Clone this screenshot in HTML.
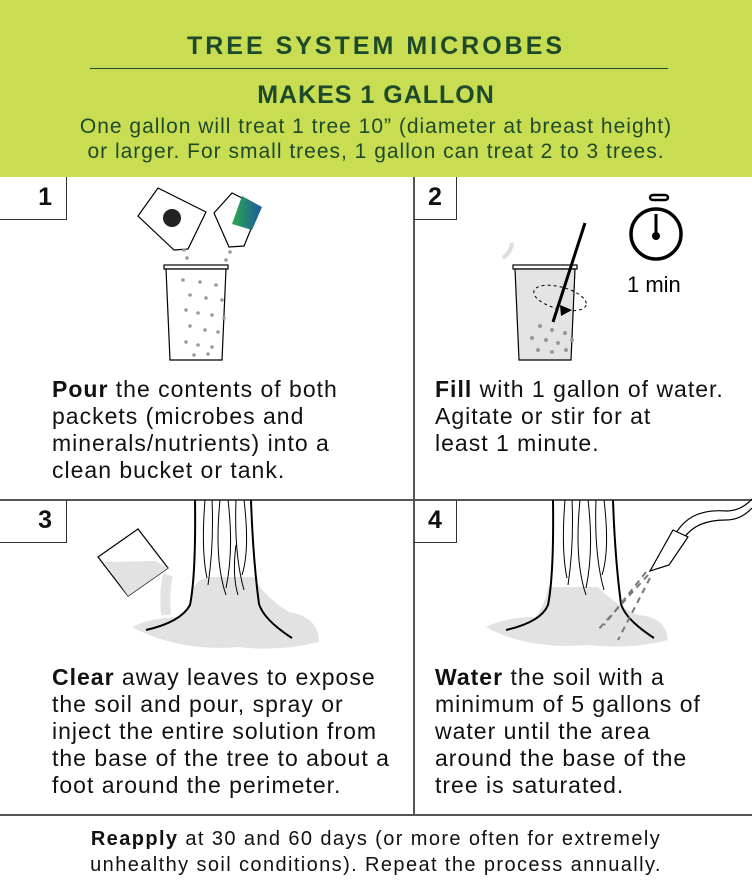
<!DOCTYPE html>
<html><head><meta charset="utf-8"><style>
*{margin:0;padding:0;box-sizing:border-box}
body{width:752px;height:886px;background:#fff;font-family:"Liberation Sans",sans-serif;position:relative;overflow:hidden;color:#111}
.hdr{position:absolute;left:0;top:0;width:752px;height:177px;background:#c9dd52;color:#1d4a2a;text-align:center}
.t1{position:absolute;top:32px;width:100%;font-size:25px;font-weight:bold;letter-spacing:3px}
.rule{position:absolute;left:90px;width:578px;top:68px;border-top:1.5px solid #1d4a2a}
.t2{position:absolute;top:81px;width:100%;font-size:25px;font-weight:bold;letter-spacing:1px}
.t3{position:absolute;top:114px;width:100%;font-size:21px;line-height:25px;letter-spacing:1px}
.v{position:absolute;left:413px;top:177px;width:1.5px;height:638px;background:#555}
.h{position:absolute;left:0;width:752px;height:1.5px;background:#555}
.num{position:absolute;width:67px;height:43px;border-right:1.5px solid #333;border-bottom:1.5px solid #333;font-weight:bold;font-size:25px;text-align:right;padding:6px 14px 0 0}
.tx{position:absolute;font-size:23px;line-height:27px;width:370px;letter-spacing:1px;white-space:nowrap}
.ft{position:absolute;top:826px;width:100%;text-align:center;font-size:20px;line-height:26px;letter-spacing:1.4px}
svg{position:absolute;left:0;top:0}
</style></head><body>
<div class="hdr">
<div class="t1">TREE SYSTEM MICROBES</div>
<div class="rule"></div>
<div class="t2">MAKES 1 GALLON</div>
<div class="t3">One gallon will treat 1 tree 10” (diameter at breast height)<br>or larger. For small trees, 1 gallon can treat 2 to 3 trees.</div>
</div>
<div class="v"></div>
<div class="h" style="top:499px"></div>
<div class="h" style="top:814px"></div>
<div class="num" style="left:0;top:177px">1</div>
<div class="num" style="left:414px;top:177px;width:43px;text-align:center;padding-right:0">2</div>
<div class="num" style="left:0;top:500px">3</div>
<div class="num" style="left:414px;top:500px;width:43px;text-align:center;padding-right:0">4</div>

<svg width="752" height="886">
<defs><linearGradient id="g" x1="0" x2="1"><stop offset="0" stop-color="#2aa84a"/><stop offset="1" stop-color="#1e5aa0"/></linearGradient></defs>
<!-- cell1 -->
<polygon points="138,216 158,188 206,212 188,249 174,250" fill="#fff" stroke="#000" stroke-width="1.2"/>
<circle cx="172" cy="218" r="9" fill="#222"/>
<polygon points="214,213 232,193 260,207 244,246 229,247" fill="#fff" stroke="#000" stroke-width="1.2"/>
<polygon points="242,196 262,207 252,230 232,224" fill="url(#g)"/>
<rect x="164" y="265" width="64" height="4" fill="#fff" stroke="#000" stroke-width="1.2"/>
<polygon points="166,269 226,269 222,360 170,360" fill="#fff" stroke="#000" stroke-width="1.2"/>
<g fill="#999">
<circle cx="184" cy="250" r="1.8"/><circle cx="187" cy="258" r="1.8"/><circle cx="230" cy="252" r="1.8"/><circle cx="226" cy="260" r="1.8"/>
<circle cx="183" cy="280" r="1.8"/><circle cx="200" cy="282" r="1.8"/><circle cx="216" cy="285" r="1.8"/><circle cx="190" cy="295" r="1.8"/><circle cx="206" cy="298" r="1.8"/><circle cx="222" cy="300" r="1.8"/>
<circle cx="186" cy="310" r="1.8"/><circle cx="198" cy="313" r="1.8"/><circle cx="212" cy="315" r="1.8"/><circle cx="224" cy="318" r="1.8"/><circle cx="190" cy="326" r="1.8"/><circle cx="205" cy="330" r="1.8"/><circle cx="218" cy="332" r="1.8"/>
<circle cx="186" cy="342" r="1.8"/><circle cx="198" cy="345" r="1.8"/><circle cx="212" cy="347" r="1.8"/><circle cx="194" cy="355" r="1.8"/><circle cx="208" cy="354" r="1.8"/>
</g>
<!-- cell2 -->
<rect x="513" y="265" width="64" height="4" fill="#fff" stroke="#000" stroke-width="1.2"/>
<polygon points="515,269 575,269 571,360 519,360" fill="#e4e4e4" stroke="#000" stroke-width="1.2"/>
<ellipse cx="560" cy="298" rx="27" ry="11" transform="rotate(15 560 298)" fill="none" stroke="#000" stroke-dasharray="3 3"/>
<polygon points="560,305 572,310 561,316" fill="#000"/>
<line x1="585" y1="223" x2="553" y2="322" stroke="#000" stroke-width="3"/>
<g fill="#999"><circle cx="540" cy="326" r="2"/><circle cx="552" cy="330" r="2"/><circle cx="565" cy="333" r="2"/><circle cx="532" cy="338" r="2"/><circle cx="546" cy="340" r="2"/><circle cx="558" cy="343" r="2"/><circle cx="572" cy="340" r="2"/><circle cx="538" cy="350" r="2"/><circle cx="552" cy="352" r="2"/><circle cx="566" cy="350" r="2"/></g>
<path d="M503,258 q8,-6 9,-15" stroke="#ddd" stroke-width="4" fill="none"/>
<rect x="650" y="195" width="18" height="5" rx="3" fill="none" stroke="#000" stroke-width="2.5"/>
<circle cx="656" cy="234" r="25" fill="none" stroke="#000" stroke-width="3.5"/>
<line x1="656" y1="214" x2="656" y2="236" stroke="#000" stroke-width="3"/><circle cx="656" cy="236" r="4" fill="#000"/>
<text x="627" y="292" font-family="Liberation Sans" font-size="22">1 min</text>
<!-- cell3 -->
<path d="M132,627 q20,-10 50,-10 q10,-15 12,-30 q5,-10 20,-10 l40,0 q10,20 35,35 q30,5 30,30 q-40,10 -80,5 q-60,5 -107,-20z" fill="#e2e2e2"/>
<path d="M168,575 q-4,15 -2,40" stroke="#e2e2e2" stroke-width="10" fill="none"/>
<path d="M146,630 q35,-8 44,-25 q6,-30 5,-105" stroke="#000" stroke-width="2" fill="none"/>
<path d="M292,638 q-28,-18 -33,-34 q-6,-45 -8,-104" stroke="#000" stroke-width="2" fill="none"/>
<g stroke="#000" stroke-width="1" fill="none">
<path d="M205,500 q-4,50 2,78"/><path d="M212,500 q2,45 -4,85"/><path d="M220,500 q-6,60 6,95"/><path d="M228,500 q6,50 -2,88"/><path d="M236,500 q-2,55 8,90"/><path d="M244,500 q6,50 -2,75"/><path d="M236,545 q-4,30 2,50"/>
</g>
<polygon points="98,557 138,529 168,568 128,596" fill="#fff" stroke="#000" stroke-width="1.2"/>
<polygon points="104,562 156,561 168,568 128,596" fill="#e2e2e2"/>
<!-- cell4 -->
<path d="M486,627 q20,-10 50,-10 q10,-15 12,-30 l50,0 q20,20 40,28 q28,2 30,25 q-40,10 -80,5 q-60,5 -102,-18z" fill="#e2e2e2"/>
<path d="M506,630 q35,-8 42,-25 q6,-30 5,-105" stroke="#000" stroke-width="2" fill="none"/>
<path d="M654,638 q-28,-18 -33,-34 q-6,-45 -8,-104" stroke="#000" stroke-width="2" fill="none"/>
<g stroke="#000" stroke-width="1" fill="none">
<path d="M565,500 q-4,50 2,78"/><path d="M572,500 q2,45 -4,85"/><path d="M580,500 q-6,60 6,95"/><path d="M588,500 q6,50 -2,88"/><path d="M596,500 q-2,55 8,90"/><path d="M604,500 q6,50 -2,75"/>
</g>
<path d="M676,533 q15,-25 50,-22 q15,0 26,-12" stroke="#000" stroke-width="1.2" fill="none"/>
<path d="M684,538 q12,-18 42,-18 q15,0 26,-12" stroke="#000" stroke-width="1.2" fill="none"/>
<polygon points="673,530 688,537 669,565 650,571" fill="#fff" stroke="#000" stroke-width="1.2"/>
<g stroke="#777" stroke-width="2" stroke-dasharray="6 5"><line x1="648" y1="575" x2="596" y2="632"/><line x1="650" y1="578" x2="618" y2="640"/><line x1="646" y1="572" x2="604" y2="625"/></g>
</svg>

<div class="tx" style="left:52px;top:376px"><b>Pour</b> the contents of both<br>packets (microbes and<br>minerals/nutrients) into a<br>clean bucket or tank.</div>
<div class="tx" style="left:435px;top:376px"><b>Fill</b> with 1 gallon of water.<br>Agitate or stir for at<br>least 1 minute.</div>
<div class="tx" style="left:52px;top:664px"><b>Clear</b> away leaves to expose<br>the soil and pour, spray or<br>inject the entire solution from<br>the base of the tree to about a<br>foot around the perimeter.</div>
<div class="tx" style="left:435px;top:664px"><b>Water</b> the soil with a<br>minimum of 5 gallons of<br>water until the area<br>around the base of the<br>tree is saturated.</div>
<div class="ft"><b>Reapply</b> at 30 and 60 days (or more often for extremely<br>unhealthy soil conditions). Repeat the process annually.</div>
</body></html>
